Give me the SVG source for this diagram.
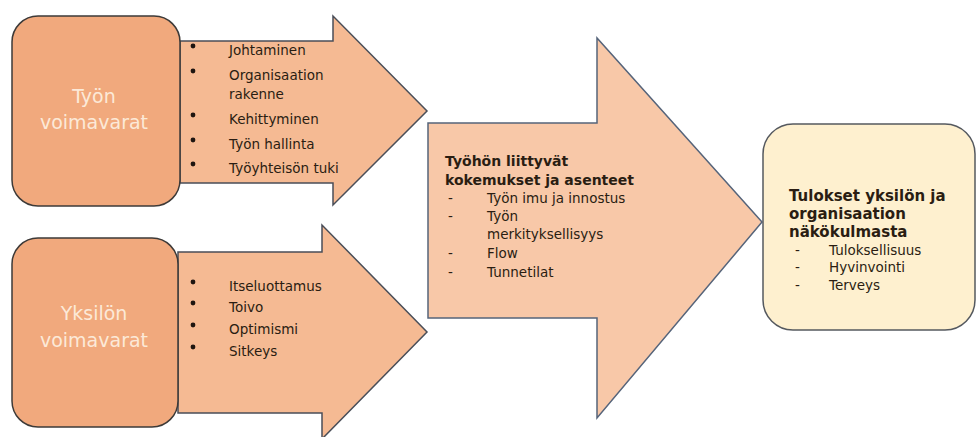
<svg xmlns="http://www.w3.org/2000/svg" width="978" height="437" viewBox="0 0 978 437">
  <style>
    .src { fill: #F1A97D; stroke: #3d3a38; stroke-width: 1.5; }
    .arr { fill: #F5BA93; stroke: #4a4e58; stroke-width: 1.5; }
    .mid { fill: #F8C8A8; stroke: #56647a; stroke-width: 1.5; }
    .res { fill: #FEF0CF; stroke: #55595f; stroke-width: 1.5; }
    .lbl { font-family: "DejaVu Sans", Verdana, sans-serif; font-size: 19px; fill: #FCE9D8; text-anchor: middle; }
    .li  { font-family: "DejaVu Sans", Verdana, sans-serif; font-size: 13.5px; fill: #2a1d12; }
    .ttl { font-family: "DejaVu Sans", Verdana, sans-serif; font-size: 14px; font-weight: bold; fill: #2a1d12; }
    .ttl2 { font-family: "DejaVu Sans", Verdana, sans-serif; font-size: 15px; font-weight: bold; fill: #2a1d12; }
    .it  { font-family: "DejaVu Sans", Verdana, sans-serif; font-size: 13.5px; fill: #2a1d12; }
    .dot { fill: #1e1510; }
  </style>

  <!-- flow arrows between the stages -->
  <g id="connectors">
    <g id="arrow-top">
      <path class="arr" d="M180,41 H333 V16 L427,111 L333,205 V183 H180 Z"/>
      <circle class="dot" cx="193" cy="46" r="2.4"/>
      <text class="li" x="229" y="55">Johtaminen</text>
      <circle class="dot" cx="193" cy="71" r="2.4"/>
      <text class="li" x="229" y="80">Organisaation</text>
      <text class="li" x="229" y="99">rakenne</text>
      <circle class="dot" cx="193" cy="115" r="2.4"/>
      <text class="li" x="229" y="124">Kehittyminen</text>
      <circle class="dot" cx="193" cy="140" r="2.4"/>
      <text class="li" x="229" y="149">Työn hallinta</text>
      <circle class="dot" cx="193" cy="164" r="2.4"/>
      <text class="li" x="229" y="173">Työyhteisön tuki</text>
    </g>
    <g id="arrow-bottom">
      <path class="arr" d="M178,252 H322 V225 L427,332 L322,439 V413 H178 Z"/>
      <circle class="dot" cx="193" cy="282" r="2.4"/>
      <text class="li" x="229" y="291">Itseluottamus</text>
      <circle class="dot" cx="193" cy="303" r="2.4"/>
      <text class="li" x="229" y="312">Toivo</text>
      <circle class="dot" cx="193" cy="325" r="2.4"/>
      <text class="li" x="229" y="334">Optimismi</text>
      <circle class="dot" cx="193" cy="347" r="2.4"/>
      <text class="li" x="229" y="356">Sitkeys</text>
    </g>
  </g>

  <g id="node-tyon-voimavarat">
    <rect class="src" x="12" y="16" width="168" height="190" rx="26"/>
    <text class="lbl" x="94" y="103">Työn</text>
    <text class="lbl" x="94" y="129">voimavarat</text>
  </g>

  <g id="node-yksilon-voimavarat">
    <rect class="src" x="12" y="238" width="166" height="189" rx="26"/>
    <text class="lbl" x="94" y="320">Yksilön</text>
    <text class="lbl" x="94" y="347">voimavarat</text>
  </g>

  <g id="node-kokemukset">
    <path class="mid" d="M428,123 H597 V38 L762,222 L597,418 V318 H428 Z"/>
    <text class="ttl" x="445" y="166">Työhön liittyvät</text>
    <text class="ttl" x="445" y="185">kokemukset ja asenteet</text>
    <text class="it" x="448" y="203">-</text>
    <text class="it" x="487" y="203">Työn imu ja innostus</text>
    <text class="it" x="448" y="221">-</text>
    <text class="it" x="487" y="221">Työn</text>
    <text class="it" x="487" y="239">merkityksellisyys</text>
    <text class="it" x="448" y="258">-</text>
    <text class="it" x="487" y="258">Flow</text>
    <text class="it" x="448" y="277">-</text>
    <text class="it" x="487" y="277">Tunnetilat</text>
  </g>

  <g id="node-tulokset">
    <rect class="res" x="763" y="124" width="212" height="206" rx="30"/>
    <text class="ttl2" x="789" y="201">Tulokset yksilön ja</text>
    <text class="ttl2" x="789" y="219">organisaation</text>
    <text class="ttl2" x="789" y="237">näkökulmasta</text>
    <text class="it" x="795" y="255">-</text>
    <text class="it" x="829" y="255">Tuloksellisuus</text>
    <text class="it" x="795" y="272">-</text>
    <text class="it" x="829" y="272">Hyvinvointi</text>
    <text class="it" x="795" y="290">-</text>
    <text class="it" x="829" y="290">Terveys</text>
  </g>
</svg>
